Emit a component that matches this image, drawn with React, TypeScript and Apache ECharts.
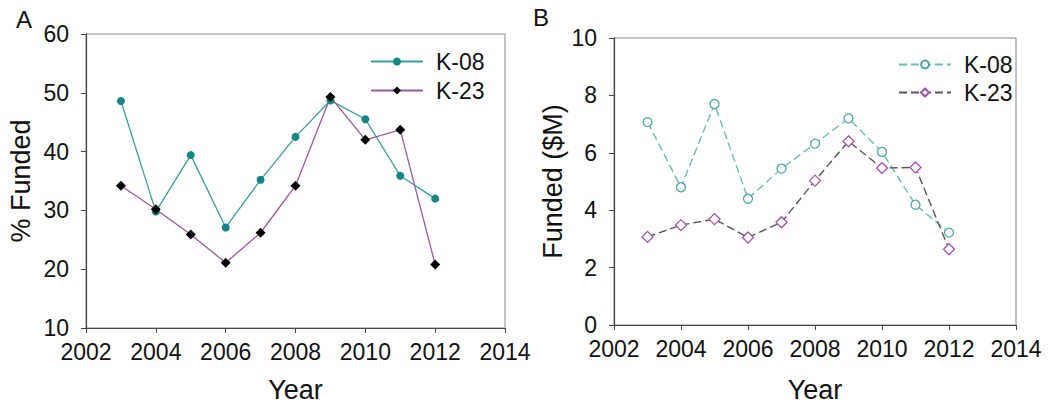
import React, { useEffect, useRef } from "react";
import * as echarts from "echarts";

const years = [2003, 2004, 2005, 2006, 2007, 2008, 2009, 2010, 2011, 2012];
const pctK08 = [48.6, 29.8, 39.4, 27.1, 35.2, 42.5, 48.7, 45.5, 35.9, 32.0];
const pctK23 = [34.2, 30.2, 25.9, 21.1, 26.2, 34.2, 49.3, 42.0, 43.7, 20.8];
const usdK08 = [7.07, 4.8, 7.7, 4.4, 5.45, 6.32, 7.2, 6.03, 4.19, 3.22];
const usdK23 = [3.07, 3.48, 3.69, 3.05, 3.58, 5.03, 6.4, 5.47, 5.49, 2.64];

const FONT = "'Liberation Sans', Arial, sans-serif";

const pairs = (ys: number[]) => years.map((y, i) => [y, ys[i]]);

function xAxis(gridIndex: number, nameGap: number) {
  return {
    type: "value",
    gridIndex,
    min: 2002,
    max: 2014,
    interval: 2,
    name: "Year",
    nameLocation: "middle",
    nameGap,
    nameTextStyle: { fontFamily: FONT, fontSize: 27, color: "#111" },
    axisLine: { show: true, lineStyle: { color: "#444", width: 1.2 } },
    axisTick: { show: true, length: 5, lineStyle: { color: "#444" } },
    axisLabel: {
      fontFamily: FONT,
      fontSize: 23,
      color: "#111",
      margin: 12,
      formatter: (v: number) => String(v),
    },
    splitLine: { show: false },
  };
}

function yAxis(gridIndex: number, min: number, max: number, interval: number, name: string, nameGap: number) {
  return {
    type: "value",
    gridIndex,
    min,
    max,
    interval,
    name,
    nameLocation: "middle",
    nameGap,
    nameTextStyle: { fontFamily: FONT, fontSize: 27, color: "#111" },
    axisLine: { show: true, lineStyle: { color: "#444", width: 1.2 } },
    axisTick: { show: true, length: 5, lineStyle: { color: "#444" } },
    axisLabel: { fontFamily: FONT, fontSize: 23, color: "#111", margin: 17 },
    splitLine: { show: false },
  };
}

export default function App() {
  const ref = useRef<HTMLDivElement>(null);
  useEffect(() => {
    if (!ref.current) return;
    const chart = echarts.init(ref.current, undefined, { renderer: "svg" });
    const legendText = { fontFamily: FONT, fontSize: 23, color: "#111", padding: [0, 0, 0, 8] };
    chart.setOption({
      animation: false,
      backgroundColor: "#fff",
      grid: [
        {
          left: 86, top: 34, width: 419, height: 294, show: true,
          borderColor: "#888", borderWidth: 1, containLabel: false, outerBoundsMode: "none",
        },
        {
          left: 614, top: 38, width: 402, height: 287, show: true,
          borderColor: "#888", borderWidth: 1, containLabel: false, outerBoundsMode: "none",
        },
      ],
      xAxis: [xAxis(0, 48), xAxis(1, 51)],
      yAxis: [
        yAxis(0, 10, 60, 10, "% Funded", 52),
        yAxis(1, 0, 10, 2, "Funded ($M)", 48),
      ],
      legend: [
        {
          data: ["K-08", "K-23"],
          orient: "vertical",
          left: 365,
          top: 45,
          itemWidth: 52,
          itemHeight: 10,
          itemGap: 6,
          textStyle: legendText,
          selectedMode: false,
        },
        {
          data: ["K-08 (B)", "K-23 (B)"],
          orient: "vertical",
          left: 893,
          top: 48,
          itemWidth: 52,
          itemHeight: 10,
          itemGap: 5,
          textStyle: legendText,
          selectedMode: false,
          formatter: (n: string) => n.replace(" (B)", ""),
        },
      ],
      graphic: [
        { type: "text", left: 16, top: 7, style: { text: "A", fontFamily: FONT, fontSize: 24, fill: "#111" } },
        { type: "text", left: 533, top: 5, style: { text: "B", fontFamily: FONT, fontSize: 24, fill: "#111" } },
      ],
      series: [
        {
          name: "K-08",
          type: "line",
          xAxisIndex: 0,
          yAxisIndex: 0,
          data: pairs(pctK08),
          symbol: "circle",
          symbolSize: 8,
          itemStyle: { color: "#138585" },
          lineStyle: { color: "#3a9e9c", width: 1.3 },
        },
        {
          name: "K-23",
          type: "line",
          xAxisIndex: 0,
          yAxisIndex: 0,
          data: pairs(pctK23),
          symbol: "diamond",
          symbolSize: 10,
          itemStyle: { color: "#000" },
          lineStyle: { color: "#9c5a9c", width: 1.3 },
        },
        {
          name: "K-08 (B)",
          type: "line",
          xAxisIndex: 1,
          yAxisIndex: 1,
          data: pairs(usdK08),
          symbol: "circle",
          symbolSize: 9,
          itemStyle: { color: "#fff", borderColor: "#4fa8a4", borderWidth: 1.3 },
          lineStyle: { color: "#6cbab6", width: 1.4, type: [8, 4] },
        },
        {
          name: "K-23 (B)",
          type: "line",
          xAxisIndex: 1,
          yAxisIndex: 1,
          data: pairs(usdK23),
          symbol: "diamond",
          symbolSize: 11,
          itemStyle: { color: "#fff", borderColor: "#a450b0", borderWidth: 1.3 },
          lineStyle: { color: "#555", width: 1.4, type: [8, 4] },
        },
      ],
    });
    return () => chart.dispose();
  }, []);
  return (
    <div
      ref={ref}
      style={{ position: "fixed", left: 0, top: 0, width: 1050, height: 407 }}
    />
  );
}
